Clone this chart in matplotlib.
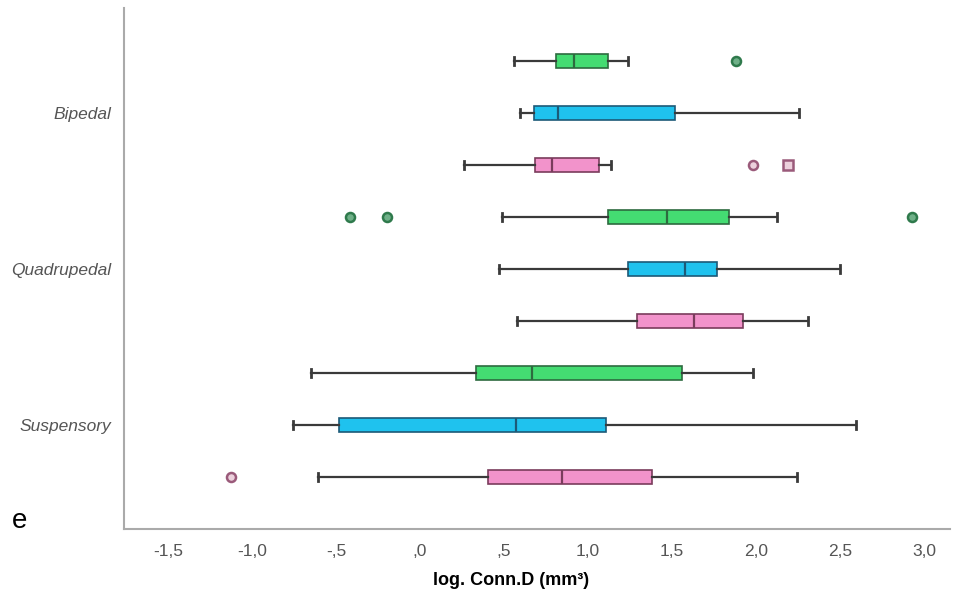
import numpy as np
import matplotlib
matplotlib.use("Agg")
import matplotlib.pyplot as plt

plt.rcParams['font.family'] = ['Liberation Sans', 'DejaVu Sans']

# Data (log. Conn.D), rows from top to bottom
groups = ["Bipedal", "Quadrupedal", "Suspensory"]
series = ["green", "cyan", "pink"]

whislo = [0.56, 0.595, 0.26,   0.49, 0.47, 0.58,   -0.65, -0.756, -0.607]
q1     = [0.81, 0.68, 0.685,   1.12, 1.24, 1.29,   0.333, -0.48, 0.405]
med    = [0.917, 0.82, 0.786,  1.47, 1.58, 1.63,   0.667, 0.571, 0.845]
q3     = [1.12, 1.52, 1.065,   1.84, 1.77, 1.92,   1.56, 1.107, 1.38]
whishi = [1.24, 2.256, 1.137,  2.125, 2.50, 2.31,  1.98, 2.595, 2.244]
outliers = [[1.88], [], [1.98],  [-0.417, -0.196, 2.93], [], [],  [], [], [-1.125]]
extremes = [[], [], [2.19],  [], [], [],  [], [], []]

fills = {"green": "#44dc72", "cyan": "#1fc2ee", "pink": "#f293cb"}
edges = {"green": "#2d6b3f", "cyan": "#1c5a78", "pink": "#7a3c5c"}
flier_face = {"green": "#6fb088", "cyan": "#5aa8c8", "pink": "#ecd0dc"}
flier_edge = {"green": "#2f7a4c", "cyan": "#2f6f8a", "pink": "#9a5a7a"}

fig = plt.figure(figsize=(9.59, 5.9), dpi=100)
ax = fig.add_axes([124/959, 61/590, (950-124)/959, (529-8)/590])

stats = []
for i in range(9):
    stats.append(dict(med=med[i], q1=q1[i], q3=q3[i], whislo=whislo[i],
                      whishi=whishi[i], fliers=[]))

for i in range(9):
    s = series[i % 3]
    ax.bxp([stats[i]], positions=[i], vert=False, widths=0.27,
           patch_artist=True, showfliers=False, capwidths=0.14,
           boxprops=dict(facecolor=fills[s], edgecolor=edges[s], linewidth=1.2),
           medianprops=dict(color=edges[s], linewidth=1.6),
           whiskerprops=dict(color="#3a3a3a", linewidth=1.6),
           capprops=dict(color="#3a3a3a", linewidth=2.0))
    if outliers[i]:
        ax.plot(outliers[i], [i] * len(outliers[i]), "o", ms=6.5,
                mfc=flier_face[s], mec=flier_edge[s], mew=1.8, ls="none")
    if extremes[i]:
        ax.plot(extremes[i], [i] * len(extremes[i]), "s", ms=6.5,
                mfc=flier_face[s], mec=flier_edge[s], mew=1.8, ls="none")

ax.set_ylim(8 + 1.0, -1.02)
ax.set_xlim(-1.762, 3.155)

xt = np.arange(-1.5, 3.01, 0.5)
def fmt(v):
    s = "%.1f" % v
    s = s.replace("0.", ".") if abs(v) < 1 else s
    return s.replace(".", ",")
ax.set_xticks(xt)
ax.set_xticklabels([fmt(v) for v in xt])
ax.set_yticks([1, 4, 7])
ax.set_yticklabels(groups, style="italic")
ax.tick_params(axis="x", length=0, pad=11, labelsize=12.5, labelcolor="#555555")
ax.tick_params(axis="y", length=0, pad=9, labelsize=12.5, labelcolor="#555555")

for side in ["top", "right"]:
    ax.spines[side].set_visible(False)
for side in ["left", "bottom"]:
    ax.spines[side].set_color("#aaaaaa")
    ax.spines[side].set_linewidth(1.5)

ax.set_xlabel("log. Conn.D (mm³)", fontsize=13, fontweight="bold")
ax.xaxis.set_label_coords((511-124)/826, -0.083)

fig.text(12/959, 1 - 521/590, "e", fontsize=20, va="center", ha="left")

fig.savefig("out.png", dpi=100)
